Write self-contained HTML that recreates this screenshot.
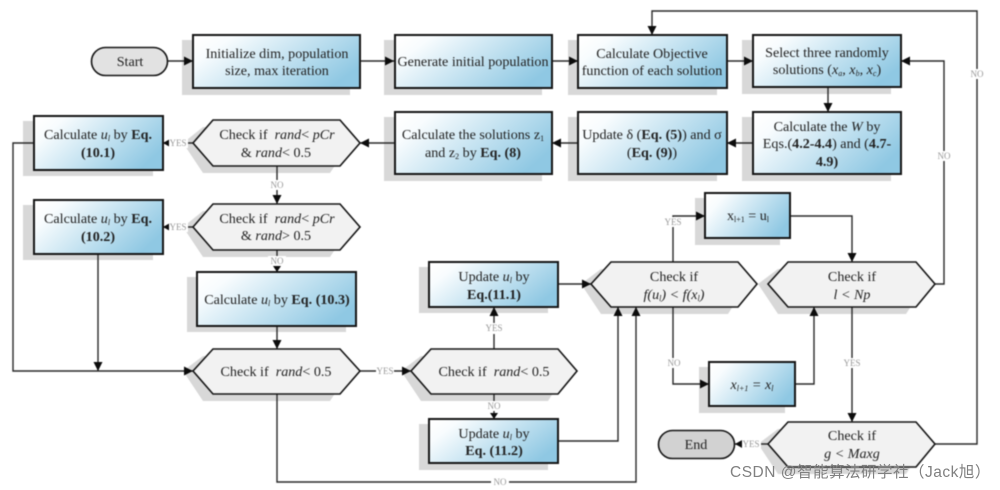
<!DOCTYPE html>
<html><head><meta charset="utf-8">
<style>
html,body{margin:0;padding:0;background:#fff}
svg{display:block}
.t{font-family:"Liberation Serif",serif;font-size:14.1px;fill:#222;text-anchor:middle;white-space:pre}
.l{font-family:"Liberation Serif",serif;font-size:9px;fill:#999;text-anchor:middle}
.lb{fill:#fff;stroke:none}
.b{fill:url(#g);stroke:#151515;stroke-width:2}
.s{fill:#d8d8d8;stroke:none}
.h{fill:#f2f2f2;stroke:#151515;stroke-width:1.6}
.c{fill:none;stroke:#2a2a2a;stroke-width:1.4}
.a{fill:#0c0c0c;stroke:none}
.w{font-family:"Liberation Sans","Noto Sans CJK SC",sans-serif;font-size:15.5px;fill:#808080;letter-spacing:.5px}
.m{filter:blur(.4px)}
</style></head><body>
<svg width="1000" height="490" viewBox="0 0 1000 490" xmlns="http://www.w3.org/2000/svg">
<defs>
<linearGradient id="g" x1="0" y1="0.15" x2="1" y2="0.6">
<stop offset="0" stop-color="#ffffff"/><stop offset=".15" stop-color="#f8fcfe"/><stop offset="1" stop-color="#8fc8e3"/>
</linearGradient>
</defs>
<g class="m">
<!-- shadows -->
<rect class="s" x="182" y="40" width="168" height="55"/>
<rect class="s" x="384" y="40" width="158" height="55"/>
<rect class="s" x="568" y="40" width="149" height="55"/>
<rect class="s" x="742" y="40" width="149" height="54"/>
<rect class="s" x="742" y="117" width="149" height="64"/>
<rect class="s" x="568" y="117" width="149" height="64"/>
<rect class="s" x="384" y="117" width="158" height="64"/>
<rect class="s" x="23" y="121" width="130" height="55"/>
<rect class="s" x="23" y="205" width="130" height="55"/>
<rect class="s" x="187" y="277" width="159" height="55"/>
<rect class="s" x="419" y="267" width="129" height="46"/>
<rect class="s" x="419" y="424" width="129" height="46"/>
<rect class="s" x="695" y="198" width="85" height="47"/>
<rect class="s" x="699" y="367" width="86" height="46"/>
<polygon class="s" points="183,143 203,127 330,127 350,143 330,173 203,173"/>
<polygon class="s" points="183,227 203,211 330,211 350,227 330,257 203,257"/>
<polygon class="s" points="183,371 203,356 330,356 350,371 330,401 203,401"/>
<polygon class="s" points="401,371 421,356 548,356 567,371 548,401 421,401"/>
<polygon class="s" points="581,284 601,269 728,269 747,284 728,314 601,314"/>
<polygon class="s" points="758,284 778,269 906,269 925,284 906,314 778,314"/>
<polygon class="s" points="758,444 778,429 906,429 925,444 906,474 778,474"/>
<!-- connectors -->
<path class="c" d="M168 61H193M360 61H394M552 61H578M727 61H753M828 87V112M753 143H727M578 143H552M394 143H360M193 143H163M277 166V204M193 227H163M277 250V272M277 326V349M98 254V371M34 143H13V371H193M360 371H411M494 349V307M494 394V419M558 284H591M558 441H618V307M277 394V482H636V307M673 262V216H705M673 307V384H709M790 216H852V262M795 384H814V307M852 307V422M935 284H944V61H901M935 444H977V11H652V35M768 444H735"/>
<!-- arrowheads -->
<g class="a">
<polygon points="193,61 184,56.5 184,65.5"/><polygon points="394,61 385,56.5 385,65.5"/><polygon points="578,61 569,56.5 569,65.5"/><polygon points="753,61 744,56.5 744,65.5"/>
<polygon points="828,112 823.5,103 832.5,103"/><polygon points="727,143 736,138.5 736,147.5"/><polygon points="552,143 561,138.5 561,147.5"/><polygon points="360,143 369,138.5 369,147.5"/>
<polygon points="163,143 170,139 170,147"/><polygon points="163,227 170,223 170,231"/>
<polygon points="277,204 272.5,195 281.5,195"/><polygon points="277,272 273,266 281,266"/><polygon points="277,349 272.5,340 281.5,340"/>
<polygon points="98,371 93.500,362 102.500,362"/><polygon points="193,371 184,366.5 184,375.5"/><polygon points="411,371 402,366.5 402,375.5"/>
<polygon points="494,307 489.500,316 498.500,316"/><polygon points="494,419 490,413 498,413"/>
<polygon points="591,284 582,279.500 582,288.500"/><polygon points="618,307 613.500,316 622.500,316"/><polygon points="636,307 631.500,316 640.500,316"/>
<polygon points="705,216 696,211.500 696,220.500"/><polygon points="709,384 700,379.500 700,388.500"/><polygon points="852,262 847.500,253 856.500,253"/>
<polygon points="814,307 809.500,316 818.500,316"/><polygon points="852,422 847.500,413 856.500,413"/><polygon points="901,61 910,56.500 910,65.500"/>
<polygon points="652,35 647.500,26 656.500,26"/><polygon points="735,444 743,439.500 743,448.500"/>
</g>
<!-- terminators -->
<rect x="91.500" y="47.500" width="76" height="28" rx="14" fill="#e2e2e2" stroke="#151515" stroke-width="1.6"/>
<rect x="658.500" y="430.500" width="76" height="28" rx="14" fill="#d2d2d2" stroke="#151515" stroke-width="1.6"/>
<!-- boxes -->
<rect class="b" x="193" y="35" width="167" height="53"/>
<rect class="b" x="395" y="35" width="157" height="53"/>
<rect class="b" x="578" y="35" width="149" height="53"/>
<rect class="b" x="753" y="35" width="148" height="52"/>
<rect class="b" x="753" y="112" width="148" height="62"/>
<rect class="b" x="578" y="112" width="149" height="62"/>
<rect class="b" x="395" y="112" width="157" height="62"/>
<rect class="b" x="34" y="116" width="129" height="54"/>
<rect class="b" x="34" y="200" width="129" height="54"/>
<rect class="b" x="197" y="272" width="159" height="54"/>
<rect class="b" x="429" y="262" width="129" height="45"/>
<rect class="b" x="429" y="419" width="129" height="44"/>
<rect class="b" x="705" y="193" width="85" height="45"/>
<rect class="b" x="709" y="362" width="86" height="44"/>
<!-- hexagons -->
<polygon class="h" points="193,143 213,120 340,120 360,143 340,166 213,166"/>
<polygon class="h" points="193,227 213,204 340,204 360,227 340,250 213,250"/>
<polygon class="h" points="193,371 213,349 340,349 360,371 340,394 213,394"/>
<polygon class="h" points="411,371 431,349 558,349 577,371 558,394 431,394"/>
<polygon class="h" points="591,284 611,262 738,262 757,284 738,307 611,307"/>
<polygon class="h" points="768,284 788,262 916,262 935,284 916,307 788,307"/>
<polygon class="h" points="768,444 788,422 916,422 935,444 916,467 788,467"/>
<!-- text -->
<text class="t" x="130" y="66">Start</text>
<text class="t" x="277" y="58">Initialize dim, population</text>
<text class="t" x="277" y="75">size, max iteration</text>
<text class="t" x="473" y="66">Generate initial population</text>
<text class="t" x="652" y="58">Calculate Objective</text>
<text class="t" x="652" y="75">function of each solution</text>
<text class="t" x="827" y="57">Select three randomly</text>
<text class="t" x="827" y="74">solutions (<tspan font-style="italic">x<tspan font-size="8" dy="2">a</tspan><tspan dy="-2">, x</tspan><tspan font-size="8" dy="2">b</tspan><tspan dy="-2">, x</tspan><tspan font-size="8" dy="2">c</tspan></tspan><tspan dy="-2">)</tspan></text>
<text class="t" x="827" y="131">Calculate the <tspan font-style="italic">W</tspan> by</text>
<text class="t" x="827" y="148">Eqs.(<tspan font-weight="bold">4.2-4.4</tspan>) and (<tspan font-weight="bold">4.7-</tspan></text>
<text class="t" x="827" y="166" font-weight="bold">4.9)</text>
<text class="t" x="652" y="139">Update δ (<tspan font-weight="bold">Eq. (5)</tspan>) and σ</text>
<text class="t" x="652" y="157">(<tspan font-weight="bold">Eq. (9)</tspan>)</text>
<text class="t" x="473" y="139">Calculate the solutions z<tspan font-size="8" dy="2">1</tspan></text>
<text class="t" x="473" y="157">and z<tspan font-size="8" dy="2">2</tspan><tspan dy="-2"> by </tspan><tspan font-weight="bold">Eq. (8)</tspan></text>
<text class="t" x="98" y="139">Calculate <tspan font-style="italic">u<tspan font-size="8" dy="2">l</tspan></tspan><tspan dy="-2"> by </tspan><tspan font-weight="bold">Eq.</tspan></text>
<text class="t" x="98" y="157" font-weight="bold">(10.1)</text>
<text class="t" x="98" y="223">Calculate <tspan font-style="italic">u<tspan font-size="8" dy="2">l</tspan></tspan><tspan dy="-2"> by </tspan><tspan font-weight="bold">Eq.</tspan></text>
<text class="t" x="98" y="241" font-weight="bold">(10.2)</text>
<text class="t" x="277" y="304">Calculate <tspan font-style="italic">u<tspan font-size="8" dy="2">l</tspan></tspan><tspan dy="-2"> by </tspan><tspan font-weight="bold">Eq. (10.3)</tspan></text>
<text class="t" x="277" y="139">Check if  <tspan font-style="italic">rand</tspan>&lt; <tspan font-style="italic">pCr</tspan></text>
<text class="t" x="276" y="157">&amp; <tspan font-style="italic">rand</tspan>&lt; 0.5</text>
<text class="t" x="277" y="223">Check if  <tspan font-style="italic">rand</tspan>&lt; <tspan font-style="italic">pCr</tspan></text>
<text class="t" x="276" y="240">&amp; <tspan font-style="italic">rand</tspan>&gt; 0.5</text>
<text class="t" x="276" y="376">Check if  <tspan font-style="italic">rand</tspan>&lt; 0.5</text>
<text class="t" x="494" y="376">Check if  <tspan font-style="italic">rand</tspan>&lt; 0.5</text>
<text class="t" x="494" y="281">Update <tspan font-style="italic">u<tspan font-size="8" dy="2">l</tspan></tspan><tspan dy="-2"> by</tspan></text>
<text class="t" x="494" y="299" font-weight="bold">Eq.(11.1)</text>
<text class="t" x="494" y="438">Update <tspan font-style="italic">u<tspan font-size="8" dy="2">l</tspan></tspan><tspan dy="-2"> by</tspan></text>
<text class="t" x="494" y="455" font-weight="bold">Eq. (11.2)</text>
<text class="t" x="674" y="281">Check if</text>
<text class="t" x="674" y="299" font-style="italic">f(u<tspan font-size="8" dy="2">l</tspan><tspan dy="-2">) &lt; f(x</tspan><tspan font-size="8" dy="2">l</tspan><tspan dy="-2">)</tspan></text>
<text class="t" x="852" y="281">Check if</text>
<text class="t" x="852" y="299" font-style="italic">l &lt; Np</text>
<text class="t" x="852" y="440">Check if</text>
<text class="t" x="852" y="458" font-style="italic">g &lt; Maxg</text>
<text class="t" x="696" y="449">End</text>
<text class="t" x="748" y="220">x<tspan font-size="8" dy="2">l+1</tspan><tspan dy="-2"> = u</tspan><tspan font-size="8" dy="2">l</tspan></text>
<text class="t" x="752" y="389" font-style="italic">x<tspan font-size="8" dy="2">l+1</tspan><tspan dy="-2"> = x</tspan><tspan font-size="8" dy="2">l</tspan></text>
<!-- connector labels -->
<rect class="lb" x="169" y="138" width="19" height="10"/><text class="l" x="178" y="146">YES</text>
<rect class="lb" x="169" y="222" width="19" height="10"/><text class="l" x="178" y="230">YES</text>
<rect class="lb" x="268" y="180" width="18" height="10"/><text class="l" x="277" y="188">NO</text>
<rect class="lb" x="268" y="256" width="18" height="10"/><text class="l" x="277" y="264">NO</text>
<rect class="lb" x="376" y="366" width="18" height="10"/><text class="l" x="385" y="374">YES</text>
<rect class="lb" x="485" y="323" width="19" height="11"/><text class="l" x="494" y="331">YES</text>
<rect class="lb" x="485" y="401" width="18" height="10"/><text class="l" x="494" y="409">NO</text>
<rect class="lb" x="491" y="477" width="18" height="10"/><text class="l" x="500" y="485">NO</text>
<rect class="lb" x="664" y="217" width="18" height="10"/><text class="l" x="673" y="225">YES</text>
<rect class="lb" x="664" y="358" width="18" height="10"/><text class="l" x="674" y="366">NO</text>
<rect class="lb" x="843" y="358" width="18" height="10"/><text class="l" x="852" y="366">YES</text>
<rect class="lb" x="935" y="151" width="18" height="10"/><text class="l" x="944" y="159">NO</text>
<rect class="lb" x="968" y="69" width="18" height="10"/><text class="l" x="977" y="77">NO</text>
<rect class="lb" x="742" y="439" width="19" height="10"/><text class="l" x="751" y="447">YES</text>
</g>
<text class="w" x="730" y="477">CSDN @智能算法研学社（Jack旭）</text>
</svg>
</body></html>
